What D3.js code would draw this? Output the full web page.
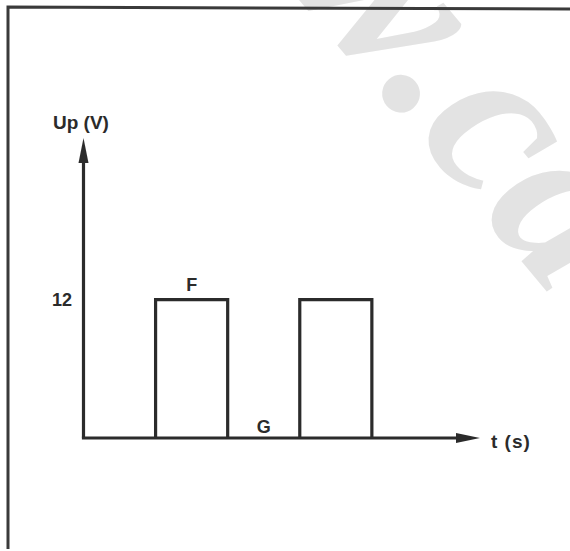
<!DOCTYPE html>
<html><head><meta charset="utf-8">
<script src="https://cdn.jsdelivr.net/npm/d3@7"></script>
<style>body{margin:0;background:#fff}svg{display:block}</style>
</head><body>
<svg id="c" width="570" height="551"></svg>
<script>
// Data: square-wave pulses of Up (V) over t (s)
const pulseStarts = [1, 3];
const pulseEnds = [2, 4];
const pulseLevel = [12, 12];
const yTickValues = [12];
const yTickLabels = ["12"];
const xAxisMax = 5.5;
const yAxisMax = 26;
const pointLabels = ["F", "G"];
const yLabel = "Up (V)";
const xLabel = "t (s)";

const svg = d3.select("#c");
const ink = "#2b2b2b";

// watermark
svg.append("text").attr("transform","translate(282,-24) rotate(50)")
  .attr("font-family","Liberation Serif").attr("font-style","italic").attr("font-weight","bold")
  .attr("font-size",232).attr("fill","#e3e3e3").text("w.ca");

// frame
svg.append("path").attr("d","M8,549 L8,7 L570,9").attr("fill","none").attr("stroke","#3a3a3a").attr("stroke-width",3);

const x = d3.scaleLinear().domain([0, xAxisMax]).range([83.5, 480]);
const y = d3.scaleLinear().domain([0, yAxisMax]).range([438, 138]);

// pulses
const pulses = pulseStarts.map((s,i)=>({s, e:pulseEnds[i], v:pulseLevel[i]}));
svg.selectAll("path.pulse").data(pulses).join("path").attr("class","pulse")
  .attr("d", d=>`M${x(d.s)},${y(0)} V${y(d.v)} H${x(d.e)} V${y(0)}`)
  .attr("fill","none").attr("stroke",ink).attr("stroke-width",3.2).attr("stroke-linejoin","miter");

// axes lines
svg.append("line").attr("x1",x(0)).attr("y1",y(0)).attr("x2",x(0)).attr("y2",y(yAxisMax)+18)
  .attr("stroke",ink).attr("stroke-width",3.2);
svg.append("line").attr("x1",x(0)-1.6).attr("y1",y(0)).attr("x2",x(xAxisMax)-18).attr("y2",y(0))
  .attr("stroke",ink).attr("stroke-width",3.2);
// arrowheads
svg.append("path").attr("d",`M${x(0)},${y(yAxisMax)} L${x(0)-5},${y(yAxisMax)+25} L${x(0)+5},${y(yAxisMax)+25}Z`).attr("fill",ink);
svg.append("path").attr("d",`M${x(xAxisMax)},${y(0)} L${x(xAxisMax)-24},${y(0)-5} L${x(xAxisMax)-24},${y(0)+5}Z`).attr("fill",ink);

const font = "Liberation Sans";
// y tick labels
svg.selectAll("text.yt").data(yTickValues).join("text").attr("class","yt")
  .attr("x",72).attr("y",d=>y(d)).attr("dy","0.35em").attr("text-anchor","end")
  .attr("font-family",font).attr("font-weight","bold").attr("font-size",18).attr("fill",ink)
  .text((d,i)=>yTickLabels[i]);

// axis titles
svg.append("text").attr("x",53).attr("y",122).attr("dy","0.35em")
  .attr("font-family",font).attr("font-weight","bold").attr("font-size",19).attr("fill",ink).text(yLabel);
svg.append("text").attr("x",491).attr("y",y(0)+3).attr("dy","0.35em")
  .attr("font-family",font).attr("font-weight","bold").attr("font-size",19).attr("letter-spacing",1).attr("fill",ink).text(xLabel);

// point labels
svg.append("text").attr("x",(x(pulses[0].s)+x(pulses[0].e))/2).attr("y",285).attr("dy","0.35em").attr("text-anchor","middle")
  .attr("font-family",font).attr("font-weight","bold").attr("font-size",18).attr("fill",ink).text(pointLabels[0]);
svg.append("text").attr("x",(x(pulses[0].e)+x(pulses[1].s))/2).attr("y",427).attr("dy","0.35em").attr("text-anchor","middle")
  .attr("font-family",font).attr("font-weight","bold").attr("font-size",18).attr("fill",ink).text(pointLabels[1]);
</script>
</body></html>
